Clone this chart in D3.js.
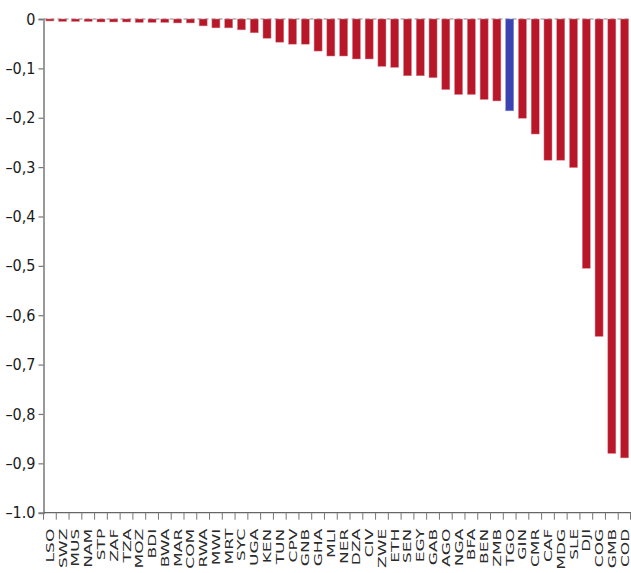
<!DOCTYPE html>
<html>
<head>
<meta charset="utf-8">
<script src="https://cdn.jsdelivr.net/npm/d3@7"></script>
<style>
  html, body { margin: 0; padding: 0; background: #fff; }
  svg { display: block; }
</style>
</head>
<body>
<svg id="chart" width="631" height="573"></svg>
<script>
const categories = ["LSO","SWZ","MUS","NAM","STP","ZAF","TZA","MOZ","BDI","BWA","MAR","COM",
  "RWA","MWI","MRT","SYC","UGA","KEN","TUN","CPV","GNB","GHA","MLI","NER","DZA","CIV",
  "ZWE","ETH","SEN","EGY","GAB","AGO","NGA","BFA","BEN","ZMB","TGO","GIN","CMR","CAF",
  "MDG","SLE","DJI","COG","GMB","COD"];
const values = [-0.004,-0.005,-0.005,-0.005,-0.006,-0.006,-0.006,-0.007,-0.007,-0.007,-0.008,-0.008,
  -0.014,-0.018,-0.018,-0.022,-0.028,-0.039,-0.047,-0.051,-0.051,-0.065,-0.075,-0.075,-0.081,-0.081,
  -0.096,-0.098,-0.115,-0.115,-0.119,-0.143,-0.153,-0.153,-0.163,-0.166,-0.186,-0.201,-0.233,-0.286,
  -0.286,-0.301,-0.505,-0.643,-0.880,-0.889];
const highlighted = ["TGO"];
const yTickValues = [0,-0.1,-0.2,-0.3,-0.4,-0.5,-0.6,-0.7,-0.8,-0.9,-1.0];
const yTickLabels = ["0","\u20130,1","\u20130,2","\u20130,3","\u20130,4","\u20130,5","\u20130,6","\u20130,7","\u20130,8","\u20130,9","\u20131.0"];

(function () {
const svg = d3.select("#chart");
const mLeft = 43.5, mRight = 631, mTop = 19, mBottom = 512.7;

const x = d3.scaleBand().domain(categories).range([mLeft, mRight]).paddingInner(0.37).paddingOuter(0.185);
const xb = d3.scaleBand().domain(categories).range([mLeft, mRight]);
const y = d3.scaleLinear().domain([-1, 0]).range([mBottom, mTop]);

// zero line (dashed)
svg.append("line")
  .attr("x1", mLeft).attr("x2", mRight)
  .attr("y1", y(0)).attr("y2", y(0))
  .attr("stroke", "#888").attr("stroke-width", 1.2)
  .attr("stroke-dasharray", "4,3");

// bars
svg.append("g").selectAll("rect")
  .data(categories)
  .join("rect")
  .attr("x", d => x(d))
  .attr("width", x.bandwidth())
  .attr("y", y(0))
  .attr("height", (d, i) => y(values[i]) - y(0))
  .attr("fill", d => highlighted.includes(d) ? "#3B43B2" : "#B71728")
  .attr("stroke", d => highlighted.includes(d) ? "#8A90D8" : "#E08A96")
  .attr("stroke-width", 0.5);

// y axis
const yAxis = d3.axisLeft(y)
  .tickValues(yTickValues)
  .tickFormat((d, i) => yTickLabels[i])
  .tickSize(5)
  .tickPadding(3);
const gy = svg.append("g").attr("transform", `translate(${mLeft},0)`).call(yAxis);
gy.select(".domain").attr("stroke", "#999").attr("stroke-width", 2);
gy.selectAll(".tick line").attr("stroke", "#777").attr("stroke-width", 1.2);
gy.selectAll(".tick text")
  .attr("fill", "#1a1a1a")
  .style("font-family", "'Liberation Sans Narrow', 'DejaVu Sans Condensed', sans-serif")
  .style("font-size", "16px");

// bottom axis line + boundary ticks
svg.append("line")
  .attr("x1", mLeft).attr("x2", mRight)
  .attr("y1", mBottom).attr("y2", mBottom)
  .attr("stroke", "#666").attr("stroke-width", 1.2);
const boundaries = categories.map(c => xb(c)).concat([mRight - 0.5]);
svg.append("g").selectAll("line")
  .data(boundaries)
  .join("line")
  .attr("x1", d => d).attr("x2", d => d)
  .attr("y1", mBottom).attr("y2", mBottom + 7)
  .attr("stroke", "#777").attr("stroke-width", 1);

// x labels (rotated, stretched along their length)
svg.append("g").selectAll("text")
  .data(categories)
  .join("text")
  .attr("transform", d => `translate(${xb(d) + xb.bandwidth() / 2 + 4},${mBottom + 16}) rotate(-90) scale(1.55,1)`)
  .attr("text-anchor", "end")
  .attr("fill", "#2a2a2a")
  .style("font-family", "'DejaVu Sans', Verdana, sans-serif")
  .style("font-size", "11px")
  .text(d => d);
})();
</script>
</body>
</html>
